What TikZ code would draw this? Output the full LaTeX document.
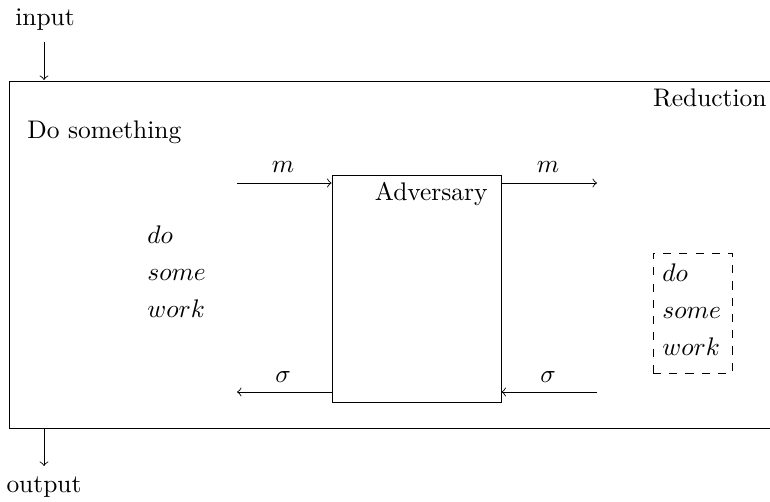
\documentclass[tikz,border=0pt]{standalone}
\newcommand\shr[1]{\scalebox{0.94}{#1}}
\begin{document}
\begin{tikzpicture}[x=0.012987cm,y=-0.012987cm,line width=0.32pt,
  lbl/.style={inner sep=0pt,anchor=base},
  lline/.style={inner sep=0pt,anchor=base west},
  rline/.style={inner sep=0pt,anchor=base east},
  arr/.style={->},
  boxline/.style={draw,inner sep=0pt}]
\useasboundingbox (0,0) rectangle (770,501);
% outer reduction box
\draw (790,81) -- (9,81) -- (9,428) -- (790,428);
\coordinate (intop) at (44,80);
\coordinate (outtop) at (44,429);
% input / output
\node[lbl] (in) at (45,25.5) {\shr{input}};
\node[lbl] (out) at (44,492) {\shr{output}};
\coordinate (inA) at (44,42);
\coordinate (outB) at (44,466);
\draw[arr] (inA) -- (intop);
\draw[arr] (outtop) -- (outB);
\node[rline] (red) at (767,106) {\shr{Reduction}};
\node[lline] (dos) at (27,138) {\shr{Do something}};
% adversary
\node[boxline,minimum width=169*0.012987cm,minimum height=227*0.012987cm] (adv) at (416.5,288.5) {};
\node[rline] (advt) at (488,200) {\shr{Adversary}};
\coordinate (mL) at (237,183);
\coordinate (mR) at (597,183);
\coordinate (sL) at (237,392);
\coordinate (sR) at (597,392);
\draw[arr] (mL) -- (mL -| adv.west);
\draw[arr] (mR -| adv.east) -- (mR);
\draw[arr] (sL -| adv.west) -- (sL);
\draw[arr] (sR) -- (sR -| adv.east);
\node[lbl] (m1) at (283,172) {\shr{$m$}};
\node[lbl] (m2) at (548,172) {\shr{$m$}};
\node[lbl] (s1) at (283,382) {\shr{$\sigma$}};
\node[lbl] (s2) at (548,382) {\shr{$\sigma$}};
% left work
\node[lline] (w1) at (147,243) {\shr{$do$}};
\node[lline] (w2) at (147,280) {\shr{$some$}};
\node[lline] (w3) at (147,317) {\shr{$work$}};
% dashed box
\node[boxline,dashed,minimum width=79*0.012987cm,minimum height=120*0.012987cm] (db) at (692.5,313) {};
\node[lline] (d1) at (662,281) {\shr{$do$}};
\node[lline] (d2) at (662,318) {\shr{$some$}};
\node[lline] (d3) at (662,355) {\shr{$work$}};
\end{tikzpicture}
\end{document}
